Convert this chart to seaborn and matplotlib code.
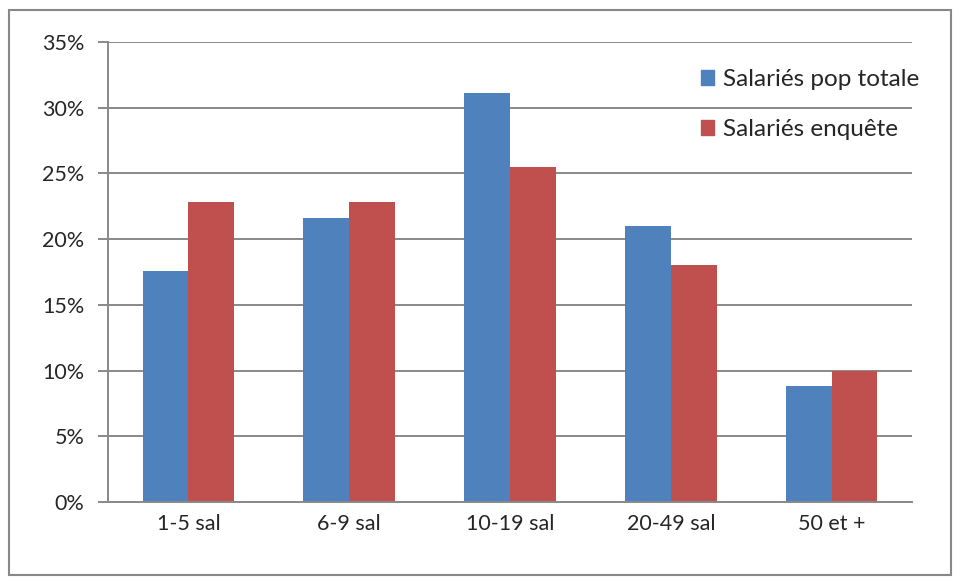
import matplotlib
matplotlib.use("Agg")
import matplotlib.pyplot as plt
import matplotlib.patches as mpatches
import seaborn as sns
import pandas as pd
from matplotlib.ticker import FuncFormatter, FixedLocator

categories = ["1-5 sal", "6-9 sal", "10-19 sal", "20-49 sal", "50 et +"]
pop_totale = [17.6, 21.6, 31.1, 21.0, 8.8]
enquete = [22.8, 22.8, 25.5, 18.0, 10.0]
series_names = ["Salariés pop totale", "Salariés enquête"]
colors = ["#4F81BD", "#C0504D"]

df = pd.DataFrame({
    "cat": categories * 2,
    "val": pop_totale + enquete,
    "serie": [series_names[0]] * len(categories) + [series_names[1]] * len(categories),
})

sns.set_style("white")
plt.rcParams["font.family"] = ["Lato", "DejaVu Sans"]

fig = plt.figure(figsize=(9.6, 5.83), dpi=100)
ax = fig.add_axes([108/960, 1-502/583, (912-108)/960, (502-42)/583])

sns.barplot(data=df, x="cat", y="val", hue="serie", palette=colors, width=0.57,
            ax=ax, saturation=1, edgecolor="none", linewidth=0)

grid_c = "#898989"
ax.set_ylim(0, 35)
ax.set_xlim(-0.5, 4.5)
ax.set_yticks(range(0, 36, 5))
ax.yaxis.set_major_formatter(FuncFormatter(lambda v, p: f"{int(v)}%"))
ax.grid(axis="y", color=grid_c, lw=1.4)
ax.set_axisbelow(True)
for s in ["top", "right"]:
    ax.spines[s].set_visible(False)
for s in ["left", "bottom"]:
    ax.spines[s].set_color(grid_c)
    ax.spines[s].set_linewidth(1.4)

ax.xaxis.set_minor_locator(FixedLocator([i - 0.5 for i in range(len(categories) + 1)]))
ax.tick_params(axis="x", which="major", length=0, pad=9, labelsize=15.5)
ax.tick_params(axis="x", which="minor", length=7, width=1.4, color=grid_c, direction="out")
ax.tick_params(axis="y", length=7, width=1.4, color=grid_c, labelsize=15.5, pad=10, left=True)
ax.set_xlabel("")
ax.set_ylabel("")

handles = [mpatches.Patch(color=c) for c in colors]
leg = ax.legend(handles, series_names, loc="upper right", bbox_to_anchor=(1.03, 0.978),
                frameon=False, fontsize=17.5, handlelength=0.55, handleheight=0.55,
                handletextpad=0.35, labelspacing=1.2, borderaxespad=0.3)

fig.patches.append(mpatches.Rectangle((9/960, 1-575/583), (951-9)/960, (575-10)/583,
                                      transform=fig.transFigure, fill=False,
                                      edgecolor="#888888", lw=1.5))

fig.savefig("out.png", dpi=100)
